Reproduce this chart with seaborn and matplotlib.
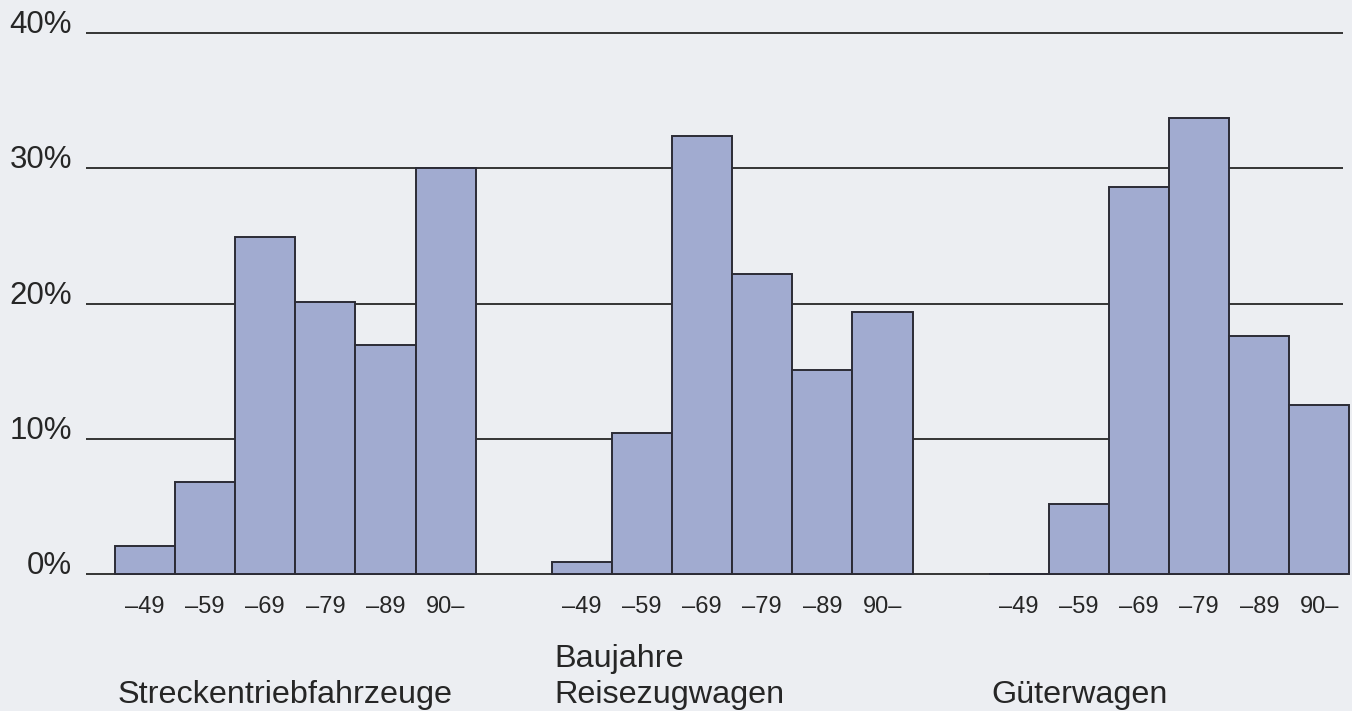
"""
Baujahre-Verteilung der Fahrzeuge (Streckentriebfahrzeuge, Reisezugwagen, Gueterwagen)
"""
import numpy as np
import pandas as pd
import matplotlib
matplotlib.use('Agg')
import matplotlib.pyplot as plt
import matplotlib.transforms as mtransforms
import seaborn as sns

# Data (share of vehicles per construction period, in %)
periods = ['–49', '–59', '–69', '–79', '–89', '90–']
groups = ['Streckentriebfahrzeuge', 'Reisezugwagen', 'Güterwagen']
strecken = [2.1, 6.8, 24.9, 20.1, 16.9, 30.0]
reisezug = [0.9, 10.4, 32.4, 22.2, 15.1, 19.4]
gueter = [0.0, 5.2, 28.6, 33.7, 17.6, 12.5]
y_ticks = [0, 10, 20, 30, 40]
y_labels = ['0%', '10%', '20%', '30%', '40%']
x_title = 'Baujahre'

BG = '#eceef2'
BAR = '#a1abd0'
EDGE = '#2b2b35'
INK = '#262626'
GROUP_STEP = 7.27

sns.set_style('white')
plt.rcParams['font.family'] = ['Liberation Sans', 'DejaVu Sans']

# Build long table, one row per bar
rows = []
for g, (name, vals) in enumerate(zip(groups, [strecken, reisezug, gueter])):
    for i, (p, v) in enumerate(zip(periods, vals)):
        rows.append({'group': name, 'period': p, 'pos': g * GROUP_STEP + i, 'value': v})
df = pd.DataFrame(rows)

fig = plt.figure(figsize=(13.52, 7.11), dpi=100, facecolor=BG)
ax = fig.add_axes([86 / 1352, 1 - 574 / 711, 1 - 86 / 1352, (574 - 33) / 711])
ax.set_facecolor(BG)

x_left = -0.5 - 29 / 60.1
x_right = -0.5 + (1352 - 115) / 60.1
grid_end = -0.5 + (1343 - 115) / 60.1

# horizontal rules behind the bars
ax.hlines(y_ticks, x_left, grid_end, colors=INK, linewidth=1.3, zorder=0, clip_on=False)

sns.barplot(data=df, x='pos', y='value', native_scale=True, width=1.0,
            color=BAR, edgecolor=EDGE, linewidth=1.4, saturation=1,
            errorbar=None, ax=ax, zorder=2)
for patch in ax.patches:
    patch.set_clip_on(False)

ax.set_xlim(x_left, x_right)
ax.set_ylim(0, 40)
for s in ax.spines.values():
    s.set_visible(False)

ax.set_yticks(y_ticks)
ax.set_yticklabels(y_labels, fontsize=22.5, color=INK)
for lab in ax.get_yticklabels():
    lab.set_va('baseline')
ax.tick_params(axis='y', length=0, pad=10)

ax.set_xticks(df['pos'])
ax.set_xticklabels(df['period'], fontsize=17, color=INK)
ax.tick_params(axis='x', length=0, pad=16)
ax.set_xlabel('')
ax.set_ylabel('')

# group names below the tick labels
trans = mtransforms.blended_transform_factory(ax.transData, fig.transFigure)
for g, name in enumerate(groups):
    x0 = g * GROUP_STEP - 0.5 + 0.04
    ax.text(x0, 1 - 703 / 711, name, transform=trans, fontsize=23.3,
            color=INK, ha='left', va='baseline')
ax.text(GROUP_STEP - 0.5 + 0.04, 1 - 667 / 711, x_title, transform=trans,
        fontsize=23.3, color=INK, ha='left', va='baseline')

plt.savefig('out.png', dpi=100, facecolor=BG)
plt.close()
